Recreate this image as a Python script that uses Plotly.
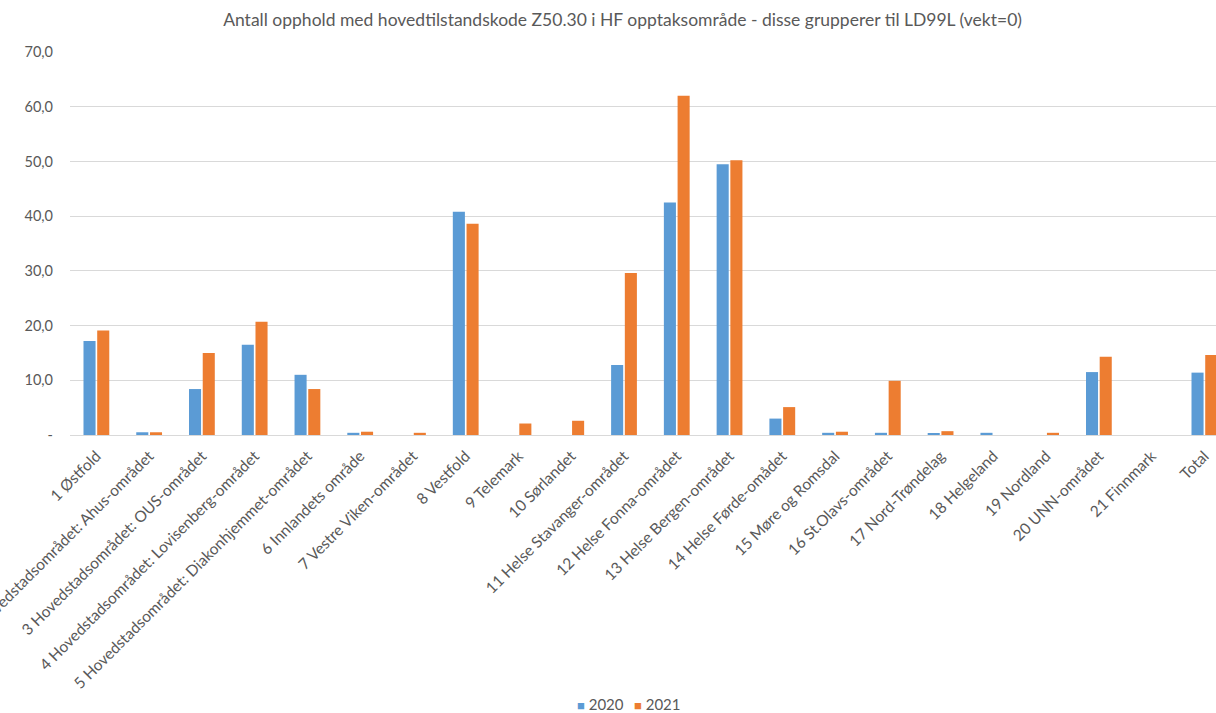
import plotly.graph_objects as go

categories = [
    "1 Østfold",
    "2 Hovedstadsområdet: Ahus-området",
    "3 Hovedstadsområdet: OUS-området",
    "4 Hovedstadsområdet: Lovisenberg-området",
    "5 Hovedstadsområdet: Diakonhjemmet-området",
    "6 Innlandets område",
    "7 Vestre Viken-området",
    "8 Vestfold",
    "9 Telemark",
    "10 Sørlandet",
    "11 Helse Stavanger-området",
    "12 Helse Fonna-området",
    "13 Helse Bergen-området",
    "14 Helse Førde-omådet",
    "15 Møre og Romsdal",
    "16 St.Olavs-området",
    "17 Nord-Trøndelag",
    "18 Helgeland",
    "19 Nordland",
    "20 UNN-området",
    "21 Finnmark",
    "Total",
]
values_2020 = [17.2, 0.5, 8.4, 16.5, 11.0, 0.4, 0.0, 40.8, 0.0, 0.0, 12.8, 42.5,
               49.5, 3.0, 0.4, 0.4, 0.2, 0.4, 0.0, 11.5, 0.0, 11.4]
values_2021 = [19.1, 0.5, 15.0, 20.7, 8.4, 0.6, 0.4, 38.6, 2.1, 2.6, 29.6, 62.0,
               50.2, 5.1, 0.6, 9.9, 0.7, 0.0, 0.4, 14.3, 0.0, 14.6]
series_names = ["2020", "2021"]
series_colors = ["#5B9BD5", "#ED7D31"]
y_tick_vals = [0, 10, 20, 30, 40, 50, 60, 70]
y_tick_text = ["-", "10,0", "20,0", "30,0", "40,0", "50,0", "60,0", "70,0"]
title_text = "Antall opphold med hovedtilstandskode Z50.30 i HF opptaksområde - disse grupperer til LD99L (vekt=0)"

FONT = "Lato"
GREY = "#595959"
fig = go.Figure()
for name, vals, col in zip(series_names, [values_2020, values_2021], series_colors):
    fig.add_trace(go.Bar(x=categories, y=vals, name=name, showlegend=False,
                         marker=dict(color=col, line=dict(width=0))))

# Excel-style legend drawn as annotations
legend_x = [0.4625, 0.5127]
for name, col, lx in zip(series_names, series_colors, legend_x):
    fig.add_annotation(
        xref="paper", yref="paper", x=lx, y=-0.703, xanchor="center", yanchor="middle",
        showarrow=False,
        text=f"<span style='color:{col};font-size:13px'>■</span> {name}",
        font=dict(family=FONT, size=15, color=GREY),
    )

fig.update_layout(
    width=1216, height=713,
    margin=dict(l=70, r=0, t=52, b=278, autoexpand=False),
    paper_bgcolor="white", plot_bgcolor="white",
    barmode="group", bargap=0.48, bargroupgap=0.12,
    font=dict(family=FONT, color=GREY, size=14),
    title=dict(text=title_text, x=0.512, xanchor="center", y=0.972, yanchor="middle",
               font=dict(family=FONT, size=17.5, color=GREY)),
    xaxis=dict(range=[-0.5, 21.22], tickangle=-45, tickfont=dict(family=FONT, size=15.5, color=GREY),
               showgrid=False, showline=True, linecolor="#D9D9D9", linewidth=1,
               ticks="", automargin=False, ticklabelstandoff=5),
    yaxis=dict(range=[0, 70], tickvals=y_tick_vals, ticktext=y_tick_text,
               tickfont=dict(family=FONT, size=14.5, color=GREY),
               showgrid=True, gridcolor="#D9D9D9", gridwidth=1,
               zeroline=False, showline=False, ticks="", ticklabelstandoff=16,
               automargin=False),
)
fig.write_html("out.html")
